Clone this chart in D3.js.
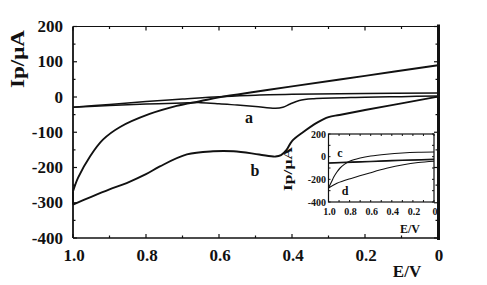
<!DOCTYPE html>
<html>
<head>
<meta charset="utf-8">
<script src="https://cdn.jsdelivr.net/npm/d3@7"></script>
<style>
  body { margin: 0; background: #fff; }
  text { font-family: "Liberation Serif", "Times New Roman", serif; font-weight: bold; fill: #111; }
</style>
</head>
<body>
<div id="chart"></div>
<script>
// chart size
var width = 487;
var height = 285;

// main plot tick labels
var xTicksMain = [1.0, 0.8, 0.6, 0.4, 0.2, 0];
var yTicksMain = [200, 100, 0, -100, -200, -300, -400];
// inset tick labels
var xTicksInset = [1.0, 0.8, 0.6, 0.4, 0.2, 0];
var yTicksInset = [200, 0, -200, -400];

// curve a, [E (V), Ip (uA)]
var aForward = [[0, 11], [0.2, 10], [0.4, 8], [0.5, 5], [0.6, 1], [0.7, -6], [0.8, -13], [0.9, -21], [1.0, -29]];
var aBackward = [[1.0, -29], [0.9, -24], [0.8, -20], [0.7, -17], [0.65, -16], [0.6, -19], [0.55, -23], [0.5, -27],
  [0.445, -32], [0.425, -29], [0.405, -20], [0.38, -10], [0.34, -5], [0.2, -1], [0.1, 1], [0, 3]];

// curve b
var bForward = [[0, 90], [0.2, 60], [0.4, 30], [0.5, 15], [0.6, -1], [0.652, -12], [0.716, -25], [0.79, -48],
  [0.871, -85], [0.918, -121], [0.953, -168], [0.986, -229], [1.0, -268]];
var bBackward = [[1.0, -305], [0.95, -283], [0.9, -262], [0.853, -244], [0.8, -219], [0.762, -197], [0.688, -163],
  [0.616, -154], [0.56, -154], [0.49, -163], [0.445, -169], [0.43, -165], [0.415, -150], [0.4, -125],
  [0.37, -100], [0.33, -72], [0.3, -57], [0.27, -51], [0.2, -37], [0.1, -18], [0, 1]];

// inset curves c and d
var cForward = [[0, -22], [0.3, -30], [0.6, -40], [1.0, -55]];
var cBackward = [[1.0, -58], [0.6, -45], [0.3, -34], [0, -27]];
var dForward = [[0, 41], [0.15, 39], [0.3, 33], [0.45, 22], [0.6, 6], [0.7, -12], [0.8, -40], [0.85, -68],
  [0.89, -100], [0.92, -135], [0.95, -180], [0.97, -220], [1.0, -276]];
var dBackward = [[1.0, -276], [0.92, -235], [0.77, -188], [0.61, -144], [0.45, -103], [0.29, -71], [0.15, -52], [0, -40]];

var svg = d3.select("#chart")
  .append("svg")
  .attr("width", width)
  .attr("height", height);

// ---------- main plot ----------
var x = d3.scaleLinear().domain([1.0, 0]).range([73, 438]);
var y = d3.scaleLinear().domain([-400, 200]).range([238, 26.5]);

var line = d3.line()
  .x(function(d) { return x(d[0]); })
  .y(function(d) { return y(d[1]); })
  .curve(d3.curveCatmullRom.alpha(0.5));

// frame: top, left, bottom thin, right heavy
svg.append("line").attr("x1", 73).attr("x2", 438).attr("y1", y(200)).attr("y2", y(200))
  .attr("stroke", "#111").attr("stroke-width", 1.2);
svg.append("line").attr("x1", 73).attr("x2", 438).attr("y1", y(-400)).attr("y2", y(-400))
  .attr("stroke", "#111").attr("stroke-width", 1.5);
svg.append("line").attr("x1", 73).attr("x2", 73).attr("y1", y(200)).attr("y2", y(-400))
  .attr("stroke", "#111").attr("stroke-width", 1.8);
svg.append("line").attr("x1", 438.5).attr("x2", 438.5).attr("y1", y(200) - 2).attr("y2", y(-400) + 2)
  .attr("stroke", "#111").attr("stroke-width", 3);

// x ticks (inside) every 0.1
d3.range(0, 11).forEach(function(i) {
  var v = i / 10;
  var len = (i % 2 === 0) ? 4 : 2.5;
  svg.append("line").attr("x1", x(v)).attr("x2", x(v)).attr("y1", y(-400)).attr("y2", y(-400) - len)
    .attr("stroke", "#111").attr("stroke-width", 1.2);
  svg.append("line").attr("x1", x(v)).attr("x2", x(v)).attr("y1", y(200)).attr("y2", y(200) + len)
    .attr("stroke", "#111").attr("stroke-width", 1.2);
});
// y ticks (inside) every 50
d3.range(-400, 201, 50).forEach(function(v) {
  var len = (v % 100 === 0) ? 4 : 2.5;
  svg.append("line").attr("x1", 73).attr("x2", 73 + len).attr("y1", y(v)).attr("y2", y(v))
    .attr("stroke", "#111").attr("stroke-width", 1.2);
  svg.append("line").attr("x1", 438).attr("x2", 438 - len).attr("y1", y(v)).attr("y2", y(v))
    .attr("stroke", "#111").attr("stroke-width", 1.2);
});

svg.selectAll(".xlab").data(xTicksMain).enter().append("text")
  .attr("x", function(d) { return x(d) + 1; })
  .attr("y", 261)
  .attr("text-anchor", "middle")
  .style("font-size", "17px")
  .text(function(d) { return d === 0 ? "0" : d.toFixed(1); });

svg.selectAll(".ylab").data(yTicksMain).enter().append("text")
  .attr("x", 63)
  .attr("y", function(d) { return y(d) + 5.5; })
  .attr("text-anchor", "end")
  .style("font-size", "17px")
  .text(function(d) { return d; });

svg.append("text")
  .attr("transform", "translate(24,59) rotate(-90)")
  .attr("text-anchor", "middle")
  .attr("textLength", 58)
  .attr("lengthAdjust", "spacingAndGlyphs")
  .style("font-size", "19px")
  .text("Ip/μA");

svg.append("text")
  .attr("x", 407).attr("y", 277)
  .attr("text-anchor", "middle")
  .style("font-size", "17px")
  .text("E/V");

// curves a and b
[aForward, aBackward].forEach(function(d) {
  svg.append("path").attr("d", line(d)).attr("fill", "none").attr("stroke", "#111").attr("stroke-width", 1.5);
});
[bForward, bBackward].forEach(function(d) {
  svg.append("path").attr("d", line(d)).attr("fill", "none").attr("stroke", "#111").attr("stroke-width", 1.9);
});
// switching-potential join of loop b
svg.append("line")
  .attr("x1", x(1.0)).attr("x2", x(1.0))
  .attr("y1", y(bForward[bForward.length - 1][1])).attr("y2", y(bBackward[0][1]))
  .attr("stroke", "#111").attr("stroke-width", 1.9);

svg.append("text").attr("x", 249).attr("y", 123).attr("text-anchor", "middle")
  .style("font-size", "16px").text("a");
svg.append("text").attr("x", 255).attr("y", 176).attr("text-anchor", "middle")
  .style("font-size", "16px").text("b");

// ---------- inset ----------
var xi = d3.scaleLinear().domain([1.0, 0]).range([328.5, 434]);
var yi = d3.scaleLinear().domain([-400, 200]).range([202, 134]);

var lineInset = d3.line()
  .x(function(d) { return xi(d[0]); })
  .y(function(d) { return yi(d[1]); })
  .curve(d3.curveCatmullRom.alpha(0.5));

svg.append("rect")
  .attr("x", xi(1.0)).attr("y", yi(200))
  .attr("width", xi(0) - xi(1.0)).attr("height", yi(-400) - yi(200))
  .attr("fill", "#fff").attr("stroke", "#111").attr("stroke-width", 1.2);

d3.range(0, 11).forEach(function(i) {
  var v = i / 10;
  svg.append("line").attr("x1", xi(v)).attr("x2", xi(v)).attr("y1", yi(-400)).attr("y2", yi(-400) - 2)
    .attr("stroke", "#111").attr("stroke-width", 1);
  svg.append("line").attr("x1", xi(v)).attr("x2", xi(v)).attr("y1", yi(200)).attr("y2", yi(200) + 2)
    .attr("stroke", "#111").attr("stroke-width", 1);
});
d3.range(-400, 201, 100).forEach(function(v) {
  svg.append("line").attr("x1", xi(1.0)).attr("x2", xi(1.0) + 2).attr("y1", yi(v)).attr("y2", yi(v))
    .attr("stroke", "#111").attr("stroke-width", 1);
  svg.append("line").attr("x1", xi(0)).attr("x2", xi(0) - 2).attr("y1", yi(v)).attr("y2", yi(v))
    .attr("stroke", "#111").attr("stroke-width", 1);
});

svg.selectAll(".xilab").data(xTicksInset).enter().append("text")
  .attr("x", function(d) { return xi(d) + 1; })
  .attr("y", 215)
  .attr("text-anchor", "middle")
  .style("font-size", "10px")
  .text(function(d) { return d === 0 ? "0" : d.toFixed(1); });

svg.selectAll(".yilab").data(yTicksInset).enter().append("text")
  .attr("x", 326)
  .attr("y", function(d) { return yi(d) + 3.5; })
  .attr("text-anchor", "end")
  .style("font-size", "10px")
  .text(function(d) { return d; });

svg.append("text")
  .attr("transform", "translate(292,169) rotate(-90)")
  .attr("text-anchor", "middle")
  .attr("textLength", 44)
  .attr("lengthAdjust", "spacingAndGlyphs")
  .style("font-size", "13px")
  .text("Ip/μA");

svg.append("text")
  .attr("x", 410).attr("y", 233)
  .attr("text-anchor", "middle")
  .style("font-size", "12px")
  .text("E/V");

[cForward, cBackward, dForward, dBackward].forEach(function(d) {
  svg.append("path").attr("d", lineInset(d)).attr("fill", "none").attr("stroke", "#111").attr("stroke-width", 1.1);
});

svg.append("text").attr("x", 340).attr("y", 157).attr("text-anchor", "middle")
  .style("font-size", "12px").text("c");
svg.append("text").attr("x", 345).attr("y", 195).attr("text-anchor", "middle")
  .style("font-size", "12px").text("d");
</script>
</body>
</html>
